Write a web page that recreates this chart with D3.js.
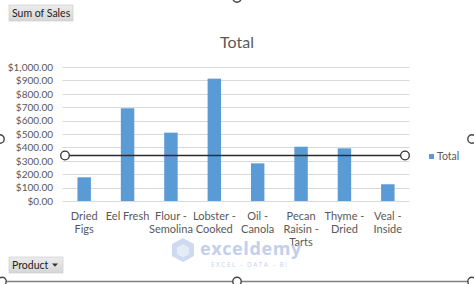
<!DOCTYPE html>
<html><head><meta charset="utf-8">
<script src="https://cdn.jsdelivr.net/npm/d3@7"></script>
<style>
html,body{margin:0;padding:0;background:#fff;}
svg{display:block;font-family:Lato,"Open Sans",sans-serif;}
</style></head>
<body>
<script>
const categories = [["Dried","Figs"],["Eel Fresh"],["Flour -","Semolina"],["Lobster -","Cooked"],["Oil -","Canola"],["Pecan","Raisin -","Tarts"],["Thyme -","Dried"],["Veal -","Inside"]];
const values = [177, 692, 510, 913, 281, 405, 393, 125];
const yTicks = [0,100,200,300,400,500,600,700,800,900,1000];
const seriesName = "Total";
const chartTitle = "Total";

const W = 474, H = 284;
const svg = d3.select("body").append("svg").attr("width", W).attr("height", H);

const defs = svg.append("defs");
const grad = defs.append("linearGradient").attr("id","btn").attr("x1",0).attr("y1",0).attr("x2",0).attr("y2",1);
grad.append("stop").attr("offset","0%").attr("stop-color","#ececec");
grad.append("stop").attr("offset","100%").attr("stop-color","#d6d6d6");

const x = d3.scaleBand().domain(categories.map((d,i)=>i)).range([62.5, 409.5]).paddingInner(0.69).paddingOuter(0.345);
const y = d3.scaleLinear().domain([0,1000]).range([201, 67]);

// gridlines
svg.append("g").selectAll("line").data(yTicks).join("line")
  .attr("x1",62.5).attr("x2",409.5)
  .attr("y1",d=>Math.round(y(d))+0.5).attr("y2",d=>Math.round(y(d))+0.5)
  .attr("stroke","#d9d9d9").attr("stroke-width",1);

// y axis labels
const yAxis = d3.axisLeft(y).tickValues(yTicks).tickSize(0).tickPadding(0)
  .tickFormat(d=>"$"+d3.format(",.2f")(d));
const ya = svg.append("g").attr("transform","translate(53,0)").call(yAxis);
ya.select(".domain").remove();
ya.selectAll("text").attr("fill","#595959").attr("font-size","10px").attr("font-family","Lato,'Open Sans',sans-serif");

// bars
svg.append("g").selectAll("rect").data(values).join("rect")
  .attr("x",(d,i)=>x(i)).attr("width",x.bandwidth())
  .attr("y",d=>y(d)).attr("height",d=>y(0)-y(d))
  .attr("fill","#5b9bd5");

// x labels
const xl = svg.append("g");
categories.forEach((lines,i)=>{
  const t = xl.append("text").attr("x",x(i)+x.bandwidth()/2).attr("y",219.5)
    .attr("text-anchor","middle").attr("fill","#595959").attr("font-size","11px");
  lines.forEach((ln,j)=>t.append("tspan").attr("x",x(i)+x.bandwidth()/2).attr("dy",j?13.3:0).text(ln));
});

// title
svg.append("text").attr("x",237).attr("y",47.5).attr("text-anchor","middle")
  .attr("fill","#595959").attr("font-size","16px").text(chartTitle);

// legend
svg.append("rect").attr("x",429).attr("y",154).attr("width",5).attr("height",5).attr("fill","#5b9bd5");
svg.append("text").attr("x",437).attr("y",160).attr("fill","#595959").attr("font-size","10.5px").text(seriesName);

// drawn line shape with handles
svg.append("line").attr("x1",65).attr("x2",405).attr("y1",155.5).attr("y2",155.5).attr("stroke","#2b2b2b").attr("stroke-width",1.3);
[65,405].forEach(cx=>svg.append("circle").attr("cx",cx).attr("cy",155.5).attr("r",4.3).attr("fill","#fff").attr("stroke","#333").attr("stroke-width",1.3));

// watermark
const wm = svg.append("g").attr("opacity",0.9);
wm.append("path").attr("d","M183,238 L194,244 L194,256 L183,262 L172,256 L172,244 Z").attr("fill","#c9d6ee");
wm.append("path").attr("d","M183,244 L189,247.5 L189,254 L183,257.5 L177,254 L177,247.5 Z").attr("fill","#e4ebf7");
wm.append("text").attr("x",200).attr("y",255).attr("fill","#bccbea").attr("font-size","18px").attr("font-weight","bold").attr("letter-spacing","0.6").attr("font-family","'Open Sans',sans-serif").text("exceldemy");
wm.append("text").attr("x",211).attr("y",267).attr("fill","#c4d0ea").attr("font-size","6.5px").attr("letter-spacing","1.5").attr("font-family","'Open Sans',sans-serif").text("EXCEL - DATA - BI");

// pivot buttons
function btn(x0,y0,w,h,label,arrow){
  svg.append("rect").attr("x",x0).attr("y",y0).attr("width",w).attr("height",h).attr("fill","url(#btn)").attr("stroke","#c8c8c8").attr("stroke-width",0.6);
  svg.append("text").attr("x",x0+3).attr("y",y0+h-4.5).attr("fill","#222").attr("font-size","10.5px").text(label);
  if(arrow){
    const ax=x0+w-8, ay=y0+h/2;
    svg.append("path").attr("d",`M${ax-3},${ay-1.5} L${ax+3},${ay-1.5} L${ax},${ay+1.8} Z`).attr("fill","#333");
  }
}
btn(9,5,64,16,"Sum of Sales",false);
btn(9,257,54,16,"Product",true);

// chart frame selection edges
svg.append("line").attr("x1",0).attr("x2",W).attr("y1",281.5).attr("y2",281.5).attr("stroke","#7f7f7f").attr("stroke-width",1.5);
[[2,281.5],[237,281.5],[472,281.5],[0,139],[472,139],[237,-2]].forEach(([cx,cy])=>
  svg.append("circle").attr("cx",cx).attr("cy",cy).attr("r",4.2).attr("fill","#fff").attr("stroke","#444").attr("stroke-width",1.4));
</script>
</body></html>
